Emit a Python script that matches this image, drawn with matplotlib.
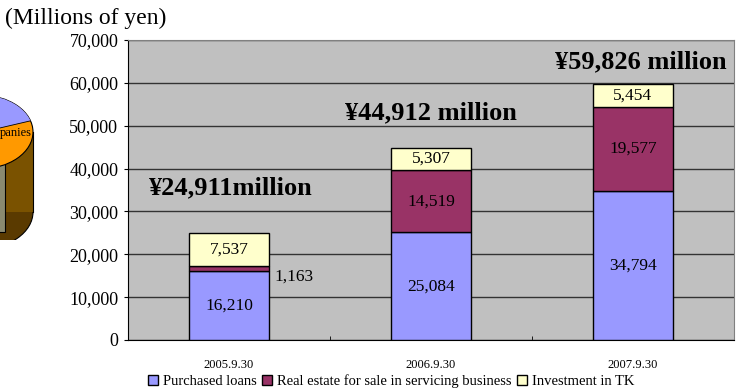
import matplotlib
matplotlib.use('Agg')
import matplotlib.pyplot as plt
from matplotlib.patches import Ellipse, Rectangle, Polygon
import numpy as np

plt.rcParams['font.family'] = ['Liberation Serif', 'DejaVu Serif']

dates = ['2005.9.30', '2006.9.30', '2007.9.30']
purchased_loans = [16210, 25084, 34794]
real_estate = [1163, 14519, 19577]
investment_tk = [7537, 5307, 5454]
totals_text = ['¥24,911million', '¥44,912 million', '¥59,826 million']
series_names = ['Purchased loans', 'Real estate for sale in servicing business', 'Investment in TK']

colors = ['#9999FF', '#993366', '#FFFFCC']

fig = plt.figure(figsize=(7.38, 3.92), dpi=100)

# cropped fragment of a neighbouring 3D pie at the left edge
pax = fig.add_axes([0, 1 - 240 / 392, 40 / 738, 150 / 392])
pax.set_xlim(0, 40)
pax.set_ylim(240, 90)
pax.axis('off')
pax.add_patch(Ellipse((-20, 212), 106, 74, facecolor='#5a3a00', edgecolor='black', lw=0.8))
pax.add_patch(Rectangle((-73, 132), 106, 80, facecolor='#7a5200', edgecolor='none'))
side = Rectangle((-73, 132), 78, 100, facecolor='#8a8a70', edgecolor='black', lw=0.8)
pax.add_patch(side)
pax.plot([33, 33], [132, 212], color='black', lw=0.8)
top = Ellipse((-20, 132), 106, 74, facecolor='#FF9900', edgecolor='black', lw=0.8)
pax.add_patch(top)
lav = Polygon([(-20, 132), (-20, 90), (40, 90), (40, 118)], facecolor='#9999FF', edgecolor='black', lw=0.6)
pax.add_patch(lav)
lav.set_clip_path(top)
pax.text(0, 133, 'panies', fontsize=9, va='center', ha='left')

ax = fig.add_axes([128 / 738, 52 / 392, 606 / 738, 300 / 392])
ax.set_facecolor('#C0C0C0')
x = np.arange(len(dates))
w = 0.4
bottom2 = np.array(purchased_loans)
bottom3 = bottom2 + np.array(real_estate)
ax.bar(x, purchased_loans, w, color=colors[0], edgecolor='black', lw=1, label=series_names[0], zorder=3)
ax.bar(x, real_estate, w, bottom=bottom2, color=colors[1], edgecolor='black', lw=1, label=series_names[1], zorder=3)
ax.bar(x, investment_tk, w, bottom=bottom3, color=colors[2], edgecolor='black', lw=1, label=series_names[2], zorder=3)

for i in range(len(dates)):
    ax.text(x[i], purchased_loans[i] / 2, f'{purchased_loans[i]:,}', ha='center', va='center', fontsize=12.5, zorder=4)
    if i == 0:
        ax.text(x[i] + 0.32, bottom2[i] - 1500, f'{real_estate[i]:,}', ha='center', va='center', fontsize=12.5, zorder=4)
    else:
        ax.text(x[i], bottom2[i] + real_estate[i] / 2, f'{real_estate[i]:,}', ha='center', va='center', fontsize=12.5, zorder=4)
    ax.text(x[i], bottom3[i] + investment_tk[i] / 2, f'{investment_tk[i]:,}', ha='center', va='center', fontsize=12.5, zorder=4)

label_pos = [(0.01, 35500), (1.0, 53000), (2.04, 64900)]
for i, (lx, ly) in enumerate(label_pos):
    ax.text(lx, ly, totals_text[i], ha='center', va='center', fontsize=19, fontweight='bold', zorder=4)

ax.set_xlim(-0.5, 2.5)
ax.set_ylim(0, 70000)
ax.set_yticks(range(0, 70001, 10000))
ax.set_yticklabels([f'{v:,}' for v in range(0, 70001, 10000)], fontsize=13)
ax.yaxis.grid(True, color='#333333', lw=1)
ax.set_axisbelow(True)
ax.set_xticks(x)
ax.set_xticklabels(dates, fontsize=9)
ax.tick_params(axis='x', length=0, pad=14)
ax.set_xticks([0.5, 1.5], minor=True)
ax.tick_params(axis='x', which='minor', direction='in', length=3)
ax.tick_params(axis='y', direction='out', length=3, pad=4)
for s in ['top', 'right']:
    ax.spines[s].set_color('#808080')
for s in ['left', 'bottom']:
    ax.spines[s].set_color('black')

fig.text(5 / 738, 1 - 18 / 392, '(Millions of yen)', fontsize=17, va='center', ha='left')

ax.legend(loc='upper center', bbox_to_anchor=(0.434, -0.095), ncol=3, frameon=False, fontsize=10.5,
          handlelength=0.7, handleheight=0.7, handletextpad=0.3, columnspacing=0.4, borderaxespad=0)

fig.savefig('out.png', dpi=100)
